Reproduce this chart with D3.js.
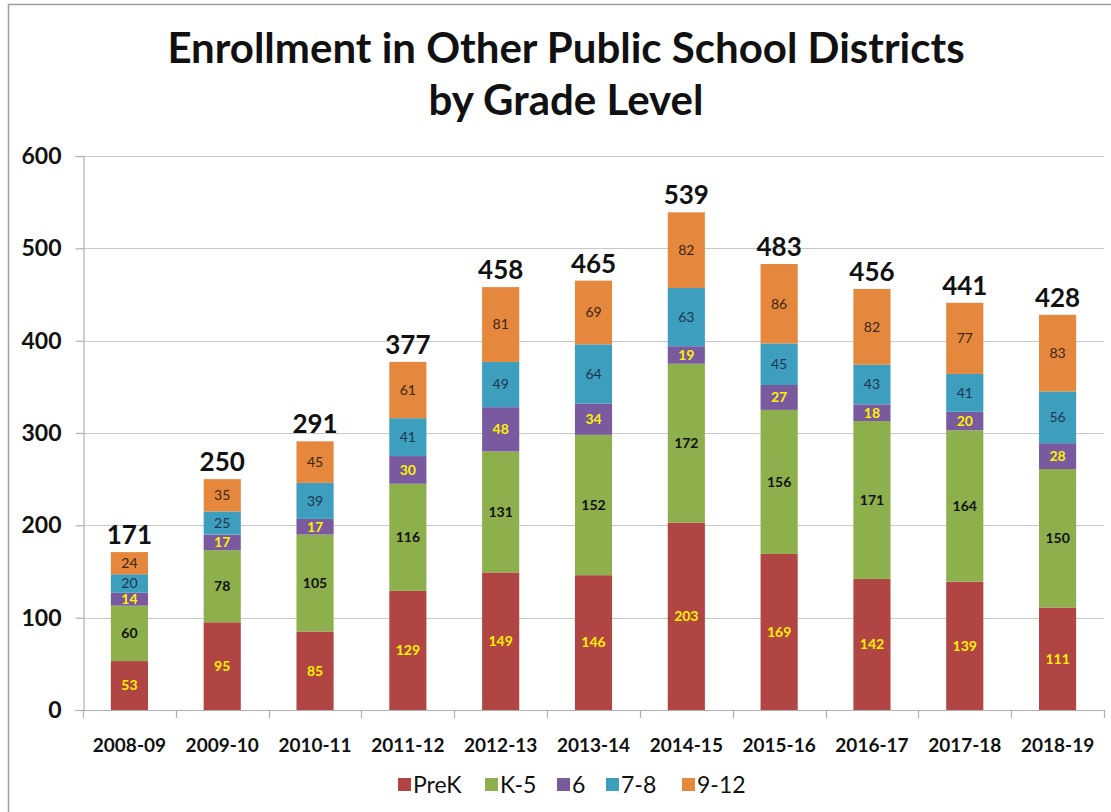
<!DOCTYPE html>
<html>
<head>
<meta charset="utf-8">
<script src="https://cdn.jsdelivr.net/npm/d3@7"></script>
<style>
  html, body { margin: 0; padding: 0; background: #fff; }
  svg { display: block; font-family: Lato, "Open Sans", sans-serif; }
</style>
</head>
<body>
<svg id="chart" width="1111" height="812"></svg>
<script>
// School years on the x axis
const years = ["2008-09", "2009-10", "2010-11", "2011-12", "2012-13", "2013-14",
               "2014-15", "2015-16", "2016-17", "2017-18", "2018-19"];

// Enrollment by grade level, one array per series (bottom to top)
const preK   = [53, 95, 85, 129, 149, 146, 203, 169, 142, 139, 111];
const k5     = [60, 78, 105, 116, 131, 152, 172, 156, 171, 164, 150];
const grade6 = [14, 17, 17, 30, 48, 34, 19, 27, 18, 20, 28];
const g7to8  = [20, 25, 39, 41, 49, 64, 63, 45, 43, 41, 56];
const g9to12 = [24, 35, 45, 61, 81, 69, 82, 86, 82, 77, 83];

// Totals shown above each stack
const totals = [171, 250, 291, 377, 458, 465, 539, 483, 456, 441, 428];

const yTicks = [0, 100, 200, 300, 400, 500, 600];

const seriesNames = ["PreK", "K-5", "6", "7-8", "9-12"];
const seriesData = [preK, k5, grade6, g7to8, g9to12];
const colors = ["#B14543", "#8DAF4C", "#7A5A9E", "#3E9EBD", "#E5873D"];
const labelStyle = [
  { fill: "#FFF200", weight: 700 },
  { fill: "#111111", weight: 700 },
  { fill: "#FFF200", weight: 700 },
  { fill: "#1B3550", weight: 400 },
  { fill: "#3A2614", weight: 400 }
];

const svg = d3.select("#chart");

// Outer frame
svg.append("path")
  .attr("d", "M8.5,812 V4.5 H1111")
  .attr("fill", "none")
  .attr("stroke", "#A0A0A0")
  .attr("stroke-width", 1.5);

// Title
const title = svg.append("text")
  .attr("text-anchor", "middle")
  .attr("font-weight", 700)
  .attr("font-size", 42)
  .attr("fill", "#111");
title.append("tspan").attr("x", 566).attr("y", 63).text("Enrollment in Other Public School Districts");
title.append("tspan").attr("x", 566).attr("y", 115).text("by Grade Level");

const plot = { left: 83, right: 1104, top: 156, bottom: 710 };

const x = d3.scaleBand()
  .domain(years)
  .range([plot.left, plot.right])
  .paddingInner(0.6)
  .paddingOuter(0.3);

const y = d3.scaleLinear()
  .domain([0, 600])
  .range([plot.bottom, plot.top]);

// Gridlines
svg.append("g")
  .selectAll("line")
  .data(yTicks.filter(d => d > 0))
  .join("line")
  .attr("x1", plot.left)
  .attr("x2", plot.right)
  .attr("y1", d => Math.round(y(d)) + 0.5)
  .attr("y2", d => Math.round(y(d)) + 0.5)
  .attr("stroke", "#C8C8C8")
  .attr("stroke-width", 1.2);

// Y axis
const yAxis = svg.append("g")
  .attr("transform", `translate(${plot.left + 0.5},0)`)
  .call(d3.axisLeft(y).tickValues(yTicks).tickSize(8).tickPadding(14));
yAxis.select(".domain").attr("stroke", "#B0B0B0").attr("stroke-width", 1.2);
yAxis.selectAll(".tick line").attr("stroke", "#B0B0B0").attr("stroke-width", 1.2);
yAxis.selectAll(".tick text")
  .attr("font-size", 23)
  .attr("font-weight", 700)
  .attr("fill", "#111")
  .attr("font-family", "Lato, sans-serif");

// Stacked series
const table = years.map((yr, i) => {
  const row = { year: yr };
  seriesNames.forEach((s, j) => { row[s] = seriesData[j][i]; });
  return row;
});
const stacked = d3.stack().keys(seriesNames)(table);

const layers = svg.append("g")
  .selectAll("g")
  .data(stacked)
  .join("g")
  .attr("fill", (d, i) => colors[i]);

layers.selectAll("rect")
  .data(d => d)
  .join("rect")
  .attr("x", d => x(d.data.year))
  .attr("width", x.bandwidth())
  .attr("y", d => y(d[1]))
  .attr("height", d => y(d[0]) - y(d[1]));

// Segment value labels
stacked.forEach((layer, i) => {
  svg.append("g")
    .selectAll("text")
    .data(layer)
    .join("text")
    .attr("x", d => x(d.data.year) + x.bandwidth() / 2)
    .attr("y", d => y((d[0] + d[1]) / 2))
    .attr("dy", "0.35em")
    .attr("text-anchor", "middle")
    .attr("font-size", 14)
    .attr("font-weight", labelStyle[i].weight)
    .attr("fill", labelStyle[i].fill)
    .text(d => d[1] - d[0]);
});

// Totals above stacks
svg.append("g")
  .selectAll("text")
  .data(years)
  .join("text")
  .attr("x", d => x(d) + x.bandwidth() / 2)
  .attr("y", (d, i) => y(totals[i]) - 8)
  .attr("text-anchor", "middle")
  .attr("font-size", 26)
  .attr("font-weight", 700)
  .attr("fill", "#111")
  .text((d, i) => totals[i]);

// X axis with ticks at category boundaries
const xg = svg.append("g");
xg.append("line")
  .attr("x1", plot.left).attr("x2", plot.right)
  .attr("y1", plot.bottom + 0.5).attr("y2", plot.bottom + 0.5)
  .attr("stroke", "#B0B0B0").attr("stroke-width", 1.2);
const bounds = d3.range(years.length + 1).map(i => plot.left + i * (plot.right - plot.left) / years.length);
xg.selectAll("line.tk")
  .data(bounds)
  .join("line")
  .attr("class", "tk")
  .attr("x1", d => Math.round(d) + 0.5).attr("x2", d => Math.round(d) + 0.5)
  .attr("y1", plot.bottom).attr("y2", plot.bottom + 8)
  .attr("stroke", "#B0B0B0").attr("stroke-width", 1.2);
xg.selectAll("text")
  .data(years)
  .join("text")
  .attr("x", d => x(d) + x.bandwidth() / 2)
  .attr("y", 752)
  .attr("text-anchor", "middle")
  .attr("font-size", 19)
  .attr("font-weight", 700)
  .attr("fill", "#111")
  .text(d => d);

// Legend
const legendX = [398, 485, 557, 606, 682];
const legend = svg.append("g");
seriesNames.forEach((name, i) => {
  legend.append("rect")
    .attr("x", legendX[i]).attr("y", 778)
    .attr("width", 13).attr("height", 13)
    .attr("fill", colors[i]);
  legend.append("text")
    .attr("x", legendX[i] + 15).attr("y", 793)
    .attr("font-size", 23)
    .attr("fill", "#111")
    .text(name);
});
</script>
</body>
</html>
